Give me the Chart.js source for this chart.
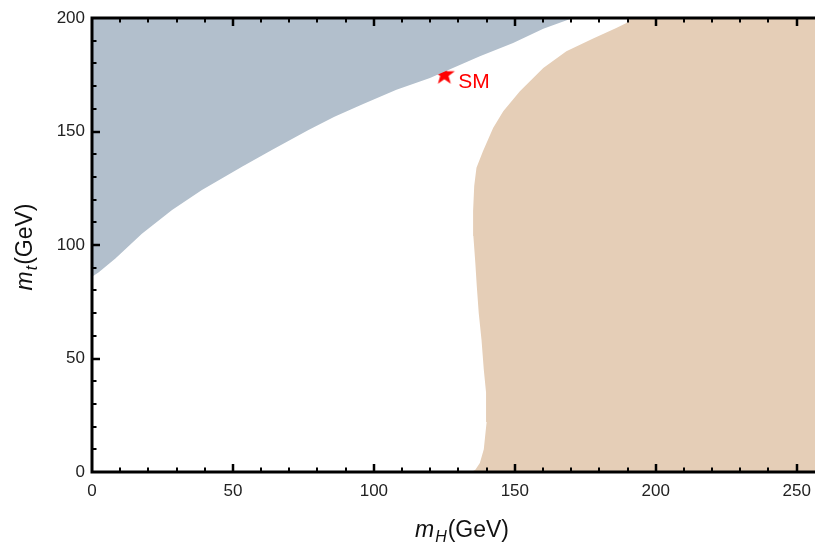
<!DOCTYPE html>
<html>
<head>
<meta charset="utf-8">
<script src="https://cdn.jsdelivr.net/npm/chart.js@4/dist/chart.umd.min.js"></script>
<style>
  html, body { margin: 0; padding: 0; background: #fff; }
  canvas { display: block; }
</style>
</head>
<body>
<canvas id="plot" width="815" height="547"></canvas>
<script>
// axis ranges and tick labels
const xMax = 256.5;
const yMax = 200;
const xTickValues = [0, 50, 100, 150, 200, 250];
const yTickValues = [0, 50, 100, 150, 200];

// edge of the upper-left (blue) region, filled up to the top of the plot
const upperEdgeMH = [0, 2.4, 8.3, 17.7, 28.4, 39, 53.2, 63.8, 76.8, 86, 96, 108, 119.9, 137.6, 149.4, 160.1, 170.6];
const upperEdgeMt = [86, 88, 94, 105, 115.4, 124.2, 134.5, 141.9, 150.7, 156.5, 162, 168.4, 173.6, 183.1, 189, 195.3, 200];

// edge of the right (beige) region, from the bottom axis up to the top
const rightEdgeMH = [134.6, 136, 137.6, 139, 140, 139.8, 139, 138.2, 137.2, 136.5, 136, 135.3, 135.2, 135.6, 136.4, 138.7, 142.3, 145.9, 151.8, 160.1, 168.3, 177.8, 186, 189.6, 191];
const rightEdgeMt = [0, 1, 4, 10, 22, 35, 45, 58, 70, 82, 92, 104, 115, 126, 134, 141.3, 151.5, 158.9, 167.7, 178, 185.3, 191, 195.6, 197.8, 200];

// Standard Model point
const smPoint = { x: 125, y: 175 };

var upperPoints = upperEdgeMH.map(function (v, i) { return { x: v, y: upperEdgeMt[i] }; });
var rightPoints = rightEdgeMH.map(function (v, i) { return { x: v, y: rightEdgeMt[i] }; });
// close the right region along the plot edges
rightPoints.push({ x: xMax, y: yMax }, { x: xMax, y: 0 }, { x: rightEdgeMH[0], y: rightEdgeMt[0] });

function makeStar(r, color) {
    var c = document.createElement('canvas');
    c.width = c.height = 2 * r + 2;
    var g = c.getContext('2d');
    g.fillStyle = color;
    g.beginPath();
    for (var i = 0; i < 10; i++) {
        var a = -Math.PI / 2 + i * Math.PI / 5;
        var rr = i % 2 ? r * 0.4 : r;
        g.lineTo(r + 1 + rr * Math.cos(a), r + 1 + rr * Math.sin(a));
    }
    g.closePath();
    g.fill();
    return c;
}

// axis titles with subscripts, frame and inward ticks
function drawTitle(ctx, x, y, sym, sub) {
    ctx.font = 'italic 23px "Liberation Sans", Arial, sans-serif';
    var w1 = ctx.measureText(sym).width;
    ctx.font = 'italic 16px "Liberation Sans", Arial, sans-serif';
    var w2 = ctx.measureText(sub).width;
    ctx.font = '23px "Liberation Sans", Arial, sans-serif';
    var w3 = ctx.measureText('(GeV)').width;
    var start = x - (w1 + w2 + w3 + 2) / 2;
    ctx.textAlign = 'left';
    ctx.textBaseline = 'alphabetic';
    ctx.font = 'italic 23px "Liberation Sans", Arial, sans-serif';
    ctx.fillText(sym, start, y);
    ctx.font = 'italic 16px "Liberation Sans", Arial, sans-serif';
    ctx.fillText(sub, start + w1 + 1, y + 5);
    ctx.font = '23px "Liberation Sans", Arial, sans-serif';
    ctx.fillText('(GeV)', start + w1 + w2 + 2, y);
}

var framePlugin = {
    id: 'frame',
    afterDraw: function (chart) {
        var ctx = chart.ctx, a = chart.chartArea;
        var xs = chart.scales.x, ys = chart.scales.y;
        ctx.save();
        ctx.strokeStyle = '#000';
        ctx.lineWidth = 3;
        ctx.beginPath();
        ctx.moveTo(a.left - 1.5, a.top); ctx.lineTo(a.right, a.top);
        ctx.moveTo(a.left, a.top); ctx.lineTo(a.left, a.bottom);
        ctx.moveTo(a.left - 1.5, a.bottom); ctx.lineTo(a.right, a.bottom);
        ctx.stroke();

        for (var v = 10; v <= xs.max; v += 10) {
            var px = Math.round(xs.getPixelForValue(v));
            var major = v % 50 === 0;
            ctx.lineWidth = major ? 2.5 : 2;
            var len = major ? 8 : 4.5;
            ctx.beginPath();
            ctx.moveTo(px, a.bottom); ctx.lineTo(px, a.bottom - len);
            ctx.moveTo(px, a.top); ctx.lineTo(px, a.top + len);
            ctx.stroke();
        }
        for (var t = 10; t < ys.max; t += 10) {
            var py = Math.round(ys.getPixelForValue(t));
            var maj = t % 50 === 0;
            ctx.lineWidth = maj ? 2.5 : 2;
            ctx.beginPath();
            ctx.moveTo(a.left, py); ctx.lineTo(a.left + (maj ? 8 : 4.5), py);
            ctx.stroke();
        }

        // SM label next to the star
        var sx = xs.getPixelForValue(smPoint.x), sy = ys.getPixelForValue(smPoint.y);
        ctx.fillStyle = '#ff0000';
        ctx.font = '21px "Liberation Sans", Arial, sans-serif';
        ctx.textAlign = 'left';
        ctx.textBaseline = 'alphabetic';
        ctx.fillText('SM', sx + 14, sy + 13);

        // axis titles
        ctx.fillStyle = '#111';
        drawTitle(ctx, 462, 537, 'm', 'H');
        ctx.translate(32, 247);
        ctx.rotate(-Math.PI / 2);
        drawTitle(ctx, 0, 0, 'm', 't');
        ctx.restore();
    }
};

new Chart(document.getElementById('plot'), {
    type: 'line',
    data: {
        datasets: [
            {
                data: upperPoints,
                borderWidth: 0,
                pointRadius: 0,
                tension: 0,
                backgroundColor: '#b2bfcc',
                fill: 'end'
            },
            {
                data: rightPoints,
                borderWidth: 0,
                pointRadius: 0,
                tension: 0,
                backgroundColor: '#e5ceb7',
                fill: 'shape'
            },
            {
                data: [smPoint],
                showLine: false,
                pointStyle: makeStar(11, '#ff0000'),
                pointRadius: 11,
                rotation: 0
            }
        ]
    },
    options: {
        responsive: false,
        animation: false,
        devicePixelRatio: 1,
        layout: { autoPadding: false, padding: { top: 18, right: 0, bottom: 0, left: 0 } },
        plugins: {
            legend: { display: false },
            tooltip: { enabled: false }
        },
        scales: {
            x: {
                type: 'linear',
                min: 0,
                max: xMax,
                grid: { display: false, drawTicks: false },
                border: { display: false },
                afterBuildTicks: function (scale) {
                    scale.ticks = xTickValues.map(function (v) { return { value: v }; });
                },
                afterFit: function (scale) {
                    scale.height = 75;
                    scale.paddingLeft = 0;
                    scale.paddingRight = 0;
                },
                ticks: {
                    padding: 9,
                    maxRotation: 0,
                    color: '#222',
                    font: { family: '"Liberation Sans", Arial, sans-serif', size: 17 }
                }
            },
            y: {
                type: 'linear',
                min: 0,
                max: yMax,
                grid: { display: false, drawTicks: false },
                border: { display: false },
                afterBuildTicks: function (scale) {
                    scale.ticks = yTickValues.map(function (v) { return { value: v }; });
                },
                afterFit: function (scale) {
                    scale.width = 92;
                    scale.paddingTop = 0;
                    scale.paddingBottom = 0;
                },
                ticks: {
                    padding: 7,
                    color: '#222',
                    font: { family: '"Liberation Sans", Arial, sans-serif', size: 17 }
                }
            }
        }
    },
    plugins: [framePlugin]
});
</script>
</body>
</html>
